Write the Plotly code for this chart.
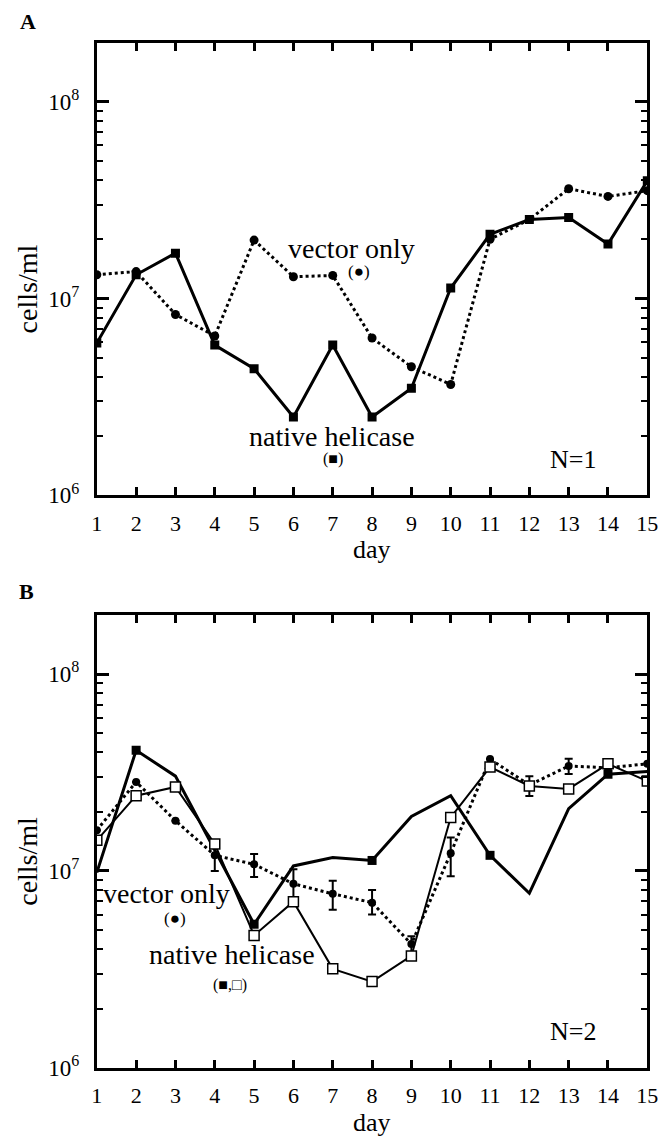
import plotly.graph_objects as go

# ---------------- data ----------------
days = list(range(1, 16))

# Panel A (N=1)
a_vector_only = [1.32e7, 1.37e7, 8.3e6, 6.45e6, 1.98e7, 1.29e7, 1.31e7, 6.3e6,
                 4.5e6, 3.66e6, 2.0e7, 2.52e7, 3.61e7, 3.3e7, 3.53e7]
a_native = [5.94e6, 1.32e7, 1.70e7, 5.8e6, 4.4e6, 2.5e6, 5.8e6, 2.5e6,
            3.5e6, 1.13e7, 2.12e7, 2.52e7, 2.58e7, 1.89e7, 3.96e7]

# Panel B (N=2)
b_vector_only = [1.61e7, 2.83e7, 1.80e7, 1.2e7, 1.08e7, 8.6e6, 7.65e6, 6.9e6,
                 4.25e6, 1.23e7, 3.7e7, 2.73e7, 3.41e7, 3.34e7, 3.5e7]
b_vector_err_plus = [0, 0, 0, 2.0e6, 1.4e6, 1.6e6, 1.25e6, 1.1e6,
                     4e5, 2.5e6, 0, 3.0e6, 3.0e6, 1.0e6, 0]
b_vector_err_minus = [0, 0, 0, 2.0e6, 1.5e6, 1.5e6, 1.3e6, 0.9e6,
                      4e5, 2.9e6, 0, 3.3e6, 3.0e6, 1.0e6, 0]
b_native_filled = [9.8e6, 4.1e7, 3.03e7, 1.28e7, 5.36e6, 1.06e7, 1.17e7, 1.13e7,
                   1.89e7, 2.41e7, 1.2e7, 7.7e6, 2.07e7, 3.1e7, 3.2e7]
b_filled_marker_days = [2, 5, 8, 11, 14]
b_native_open = [1.43e7, 2.41e7, 2.67e7, 1.37e7, 4.7e6, 6.98e6, 3.18e6, 2.74e6,
                 3.7e6, 1.87e7, 3.37e7, 2.7e7, 2.61e7, 3.5e7, 2.86e7]

y_major = [1e6, 1e7, 1e8]
y_major_text = ["10<sup>6</sup>", "10<sup>7</sup>", "10<sup>8</sup>"]

# ---------------- layout helpers ----------------
# the page has an 8px body margin, so the figure is drawn 8px in from the corner
OFF = 8
W, H = 670 - OFF, 1147 - OFF
SERIF = "Liberation Serif, Times New Roman, serif"


def fx(px):
    return (px - OFF) / W


def fy(py):
    return 1 - (py - OFF) / H


minor_vals = [k * 10 ** e for e in (6, 7) for k in range(2, 10)]

fig = go.Figure()

# ---- Panel A ----
fig.add_trace(go.Scatter(x=days, y=a_vector_only, mode="lines+markers",
                         line=dict(color="black", width=3, dash="dot"),
                         marker=dict(symbol="circle", size=9, color="black"),
                         xaxis="x", yaxis="y", showlegend=False))
fig.add_trace(go.Scatter(x=days, y=a_native, mode="lines+markers",
                         line=dict(color="black", width=3),
                         marker=dict(symbol="square", size=9, color="black"),
                         xaxis="x", yaxis="y", showlegend=False))

# ---- Panel B ----
fig.add_trace(go.Scatter(x=days, y=b_native_filled, mode="lines",
                         line=dict(color="black", width=3),
                         xaxis="x2", yaxis="y2", showlegend=False))
mk_idx = [days.index(d) for d in b_filled_marker_days]
fig.add_trace(go.Scatter(x=[days[i] for i in mk_idx],
                         y=[b_native_filled[i] for i in mk_idx],
                         mode="markers",
                         marker=dict(symbol="square", size=9, color="black"),
                         xaxis="x2", yaxis="y2", showlegend=False))
fig.add_trace(go.Scatter(x=days, y=b_vector_only, mode="lines+markers",
                         line=dict(color="black", width=3, dash="dot"),
                         marker=dict(symbol="circle", size=8, color="black"),
                         error_y=dict(type="data", symmetric=False,
                                      array=b_vector_err_plus,
                                      arrayminus=b_vector_err_minus,
                                      color="black", thickness=2, width=4),
                         xaxis="x2", yaxis="y2", showlegend=False))
fig.add_trace(go.Scatter(x=days, y=b_native_open, mode="lines+markers",
                         line=dict(color="black", width=2),
                         marker=dict(symbol="square", size=10, color="white",
                                     line=dict(color="black", width=1.5)),
                         xaxis="x2", yaxis="y2", showlegend=False))


def make_xaxis(anchor):
    return dict(domain=[fx(93), fx(658)], range=[1, 15], anchor=anchor,
                tickmode="array", tickvals=days,
                ticks="inside", ticklen=8, tickwidth=2.5, tickcolor="black",
                showline=True, linewidth=3, linecolor="black", mirror="allticks",
                showgrid=False, zeroline=False, ticklabelstandoff=6,
                ticklabeloverflow="allow",
                tickfont=dict(family=SERIF, size=22, color="black"))


def make_yaxis(top, bottom, anchor):
    return dict(domain=[fy(bottom), fy(top)], type="log", range=[6, 8.3],
                anchor=anchor, tickmode="array", tickvals=y_major,
                ticktext=y_major_text,
                ticks="inside", ticklen=12, tickwidth=2.5, tickcolor="black",
                minor=dict(tickmode="array", tickvals=minor_vals, ticks="inside",
                           ticklen=6, tickwidth=2, tickcolor="black",
                           showgrid=False),
                showline=True, linewidth=3, linecolor="black", mirror="allticks",
                showgrid=False, zeroline=False, ticklabelstandoff=10,
                ticklabeloverflow="allow",
                tickfont=dict(family=SERIF, size=23, color="black"))


A_TOP, A_BOT = 43, 501
B_TOP, B_BOT = 622, 1080

annos = []


def txt(x, y, s, size, bold=False, angle=0):
    annos.append(dict(x=fx(x), y=fy(y), xref="paper", yref="paper",
                      text=f"<b>{s}</b>" if bold else s, showarrow=False,
                      xanchor="center", yanchor="middle", textangle=angle,
                      borderpad=0,
                      font=dict(family=SERIF, size=size, color="black")))


# Panel A texts
txt(22, 22, "A", 22, bold=True)
txt(22, 292, "cells/ml", 28, angle=-90)
txt(375, 556, "day", 26)
txt(354, 251, "vector only", 28)
txt(362, 275, "(●)", 17)
txt(334, 441, "native helicase", 28)
txt(335, 464, "(■)", 16)
txt(582, 465, "N=1", 26)

# Panel B texts
txt(21, 598, "B", 22, bold=True)
txt(22, 871, "cells/ml", 28, angle=-90)
txt(375, 1135, "day", 26)
txt(165, 904, "vector only", 28)
txt(173, 929, "(●)", 17)
txt(232, 965, "native helicase", 28)
txt(230, 996, "(■,□)", 16)
txt(582, 1043, "N=2", 26)

fig.update_layout(
    width=W, height=H,
    margin=dict(l=0, r=0, t=0, b=0),
    paper_bgcolor="white", plot_bgcolor="white",
    xaxis=make_xaxis("y"),
    yaxis=make_yaxis(A_TOP, A_BOT, "x"),
    xaxis2=make_xaxis("y2"),
    yaxis2=make_yaxis(B_TOP, B_BOT, "x2"),
    annotations=annos,
    showlegend=False,
)

fig.write_html("out.html")
